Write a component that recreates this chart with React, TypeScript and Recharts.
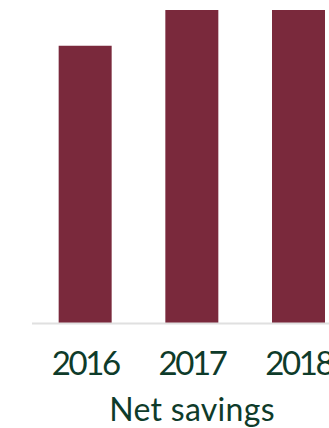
import { Bar, BarChart, XAxis, YAxis } from 'recharts'

// Net savings per year — one series, a single brand maroon.
const years = ['2016', '2017', '2018']
const netSavings = [3.1, 3.5, 3.5]

const BAR_COLOR = '#7a293c'
const TEXT_COLOR = '#0e3b2a'
const FONT = 'Lato, "Open Sans", sans-serif'

const rows = years.map((year, i) => ({ year, value: netSavings[i] }))

function YearTick({ x, y, payload }: any) {
  return (
    <text
      x={x}
      y={y + 51}
      textAnchor="middle"
      fill={TEXT_COLOR}
      fontFamily={FONT}
      fontSize={33}
      letterSpacing={-2.4}
    >
      {payload.value}
    </text>
  )
}

export default function App() {
  // The plot runs past the right edge, so the frame clips it.
  return (
    <div style={{ position: 'fixed', left: 0, top: 0, width: 329, height: 428, overflow: 'hidden', background: '#fff' }}>
      <BarChart
        width={352}
        height={428}
        data={rows}
        margin={{ top: 10, right: 0, left: 32, bottom: 0 }}
        barCategoryGap="25%"
      >
        <YAxis hide domain={[0, 3.5]} />
        <XAxis
          dataKey="year"
          height={104.5}
          tickLine={false}
          tickSize={0}
          tickMargin={0}
          axisLine={{ stroke: '#e0e0e0', strokeWidth: 2 }}
          tick={<YearTick />}
          interval={0}
          label={{
            value: 'Net savings',
            position: 'insideBottom',
            offset: 7,
            fill: TEXT_COLOR,
            fontFamily: FONT,
            fontSize: 32,
            letterSpacing: 0.3,
          }}
        />
        <Bar dataKey="value" fill={BAR_COLOR} isAnimationActive={false} />
      </BarChart>
    </div>
  )
}
